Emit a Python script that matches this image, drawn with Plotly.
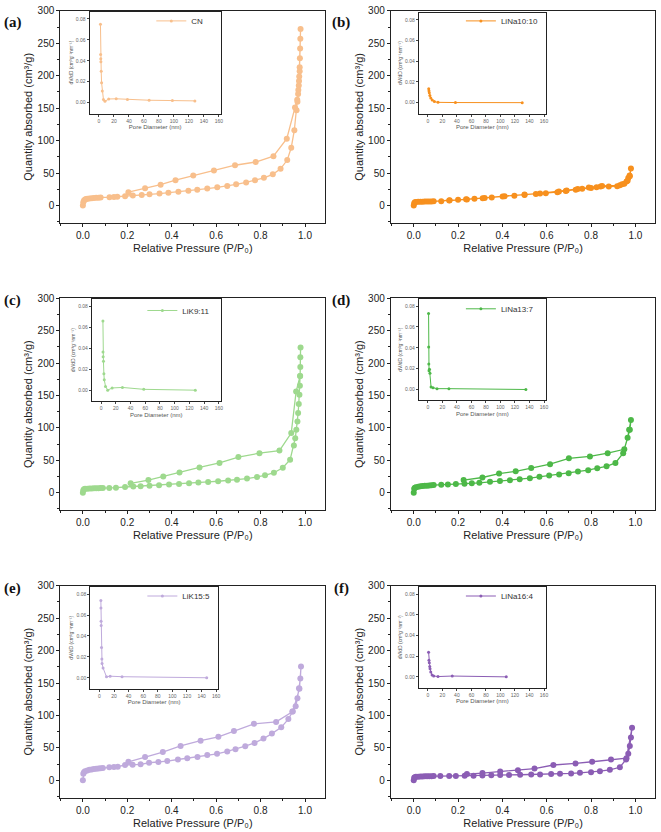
import plotly.graph_objects as go

# ---------------- data ----------------
names = ["CN", "LiNa10:10", "LiK9:11", "LiNa13:7", "LiK15:5", "LiNa16:4"]
panel_labels = ["(a)", "(b)", "(c)", "(d)", "(e)", "(f)"]
colors = ["#F8BF8C", "#F7901E", "#9ED98E", "#4DB848", "#BFAADC", "#8B5DB4"]

# (a) CN isotherm
cn_p_ads = [0.000, 0.002, 0.005, 0.010, 0.015, 0.020, 0.030, 0.040, 0.050, 0.060, 0.070, 0.080,
            0.120, 0.140, 0.155, 0.190, 0.225, 0.265, 0.300, 0.345, 0.385, 0.430, 0.475, 0.515,
            0.560, 0.605, 0.650, 0.690, 0.735, 0.775, 0.815, 0.855, 0.890, 0.920, 0.938, 0.952,
            0.962, 0.966, 0.969, 0.972, 0.974, 0.976, 0.977, 0.978, 0.979, 0.980]
cn_v_ads = [0, 5, 7.5, 9, 9.8, 10.3, 10.8, 11.2, 11.5, 11.8, 12.0, 12.3,
            12.6, 13.0, 13.5, 14.3, 15.3, 16.2, 17.2, 18.3, 19.6, 21.0, 22.6, 24.2,
            26.0, 28.0, 30.0, 32.5, 35.5, 39.0, 42.5, 48.0, 56.5, 70.0, 89.0, 116.0,
            147.0, 160.0, 172.0, 185.0, 199.0, 213.0, 227.0, 242.0, 257.0, 272.0]
cn_p_des = [0.976, 0.973, 0.970, 0.965, 0.955, 0.918, 0.858, 0.778, 0.685, 0.590, 0.497, 0.417, 0.350, 0.280, 0.205]
cn_v_des = [207, 192, 178, 163, 151, 103, 76, 67, 62, 54, 46, 39, 32, 26.5, 20.5]
cn_d = [2.0, 2.2, 2.4, 2.6, 3.0, 3.5, 4.5, 6.0, 8.0, 13.0, 23.0, 38.0, 67.0, 98.0, 128.0]
cn_dv = [0.075, 0.046, 0.042, 0.039, 0.030, 0.019, 0.011, 0.003, 0.0012, 0.0034, 0.0036, 0.0030, 0.0022, 0.0019, 0.0016]

# (b) LiNa10:10
b_p_ads = [0.000, 0.002, 0.005, 0.010, 0.020, 0.030, 0.040, 0.050, 0.060, 0.070, 0.080, 0.090,
           0.124, 0.162, 0.200, 0.236, 0.274, 0.311, 0.352, 0.401, 0.454, 0.500, 0.551, 0.596,
           0.648, 0.686, 0.731, 0.760, 0.800, 0.825, 0.843, 0.880, 0.918, 0.940, 0.960, 0.968,
           0.974, 0.980]
b_v_ads = [0, 3.5, 4.8, 5.2, 5.5, 5.7, 5.8, 5.9, 6.0, 6.1, 6.2, 6.3,
           6.6, 8.0, 8.7, 9.6, 10.2, 11.2, 12.3, 13.6, 15.0, 16.2, 17.8, 18.9,
           20.4, 22.3, 24.3, 25.8, 27.0, 28.0, 29.0, 29.2, 29.6, 32.7, 36.8, 42.4,
           46.0, 57.0]
b_p_des = [0.975, 0.965, 0.950, 0.930, 0.850, 0.790, 0.740, 0.690, 0.655, 0.570, 0.500, 0.410, 0.320, 0.240, 0.160]
b_v_des = [45.0, 38.0, 33.5, 31.0, 30.0, 27.5, 25.5, 23.0, 21.5, 18.5, 16.8, 14.0, 11.5, 9.3, 7.5]
b_d = [1.2, 1.5, 2.0, 2.8, 4.0, 6.0, 9.0, 14.0, 38.0, 130.0]
b_dv = [0.0135, 0.0115, 0.0095, 0.0068, 0.0045, 0.0025, 0.0010, 0.0003, 0.0001, 0.0]

# (c) LiK9:11
c_p_ads = [0.000, 0.002, 0.005, 0.010, 0.020, 0.030, 0.040, 0.050, 0.060, 0.070, 0.080, 0.090,
           0.119, 0.149, 0.190, 0.227, 0.260, 0.300, 0.343, 0.388, 0.433, 0.478, 0.520, 0.564,
           0.609, 0.654, 0.694, 0.739, 0.784, 0.820, 0.860, 0.900, 0.933, 0.950, 0.956, 0.961,
           0.966, 0.969, 0.972, 0.975, 0.977, 0.978, 0.979, 0.980]
c_v_ads = [0, 4.0, 5.5, 6.0, 6.3, 6.5, 6.7, 6.8, 6.9, 7.0, 7.1, 7.2,
           7.3, 7.8, 8.8, 9.5, 10.0, 10.6, 11.6, 12.6, 13.6, 14.8, 15.6, 16.6,
           17.7, 18.8, 20.2, 21.8, 24.3, 26.8, 30.8, 38.5, 51.0, 73.0, 84.0, 97.0,
           110.0, 123.0, 137.0, 151.0, 165.0, 180.0, 194.0, 224.0]
c_p_des = [0.979, 0.978, 0.960, 0.938, 0.885, 0.795, 0.700, 0.615, 0.525, 0.435, 0.362, 0.295, 0.215]
c_v_des = [209, 180, 156, 92, 65, 61, 55, 46, 39, 31, 25, 19.5, 14.5]
c_d = [2.5, 2.6, 2.8, 3.2, 3.8, 4.3, 6.0, 9.0, 15.0, 29.0, 58.0, 128.0]
c_dv = [0.066, 0.0366, 0.032, 0.0276, 0.0159, 0.0102, 0.0038, 0.0002, 0.0023, 0.0028, 0.0010, 0.0002]

# (d) LiNa13:7
d_p_ads = [0.000, 0.002, 0.005, 0.010, 0.020, 0.030, 0.040, 0.050, 0.060, 0.070, 0.080, 0.090,
           0.124, 0.154, 0.190, 0.229, 0.262, 0.296, 0.344, 0.389, 0.434, 0.478, 0.524, 0.567,
           0.611, 0.656, 0.699, 0.741, 0.787, 0.828, 0.870, 0.910, 0.945, 0.965, 0.972, 0.980]
d_v_ads = [0, 6.0, 7.8, 8.6, 9.3, 9.8, 10.2, 10.6, 10.9, 11.2, 11.5, 11.8,
           12.2, 12.8, 13.3, 13.8, 14.8, 15.3, 16.8, 17.9, 19.4, 20.9, 22.4, 24.5,
           26.5, 28.0, 30.1, 32.7, 34.7, 37.8, 40.8, 45.9, 61.0, 84.7, 97.0, 112.0]
d_p_des = [0.975, 0.950, 0.875, 0.795, 0.700, 0.615, 0.530, 0.460, 0.385, 0.310, 0.225]
d_v_des = [97.0, 67.0, 61.0, 56.0, 53.0, 44.0, 38.0, 33.0, 29.6, 23.5, 19.5]
d_d = [1.0, 1.1, 1.3, 1.6, 2.2, 2.9, 4.4, 7.1, 12.6, 29.0, 135.0]
d_dv = [0.073, 0.0408, 0.0245, 0.0179, 0.0195, 0.0157, 0.0025, 0.0017, 0.0008, 0.0008, 0.0]

# (e) LiK15:5
e_p_ads = [0.000, 0.002, 0.005, 0.010, 0.020, 0.030, 0.040, 0.050, 0.060, 0.070, 0.080, 0.090,
           0.119, 0.140, 0.157, 0.190, 0.224, 0.260, 0.298, 0.340, 0.380, 0.428, 0.470, 0.516,
           0.560, 0.604, 0.650, 0.687, 0.731, 0.773, 0.813, 0.851, 0.893, 0.925, 0.943, 0.958,
           0.966, 0.973, 0.979, 0.982]
e_v_ads = [0, 10.0, 12.5, 14.0, 15.2, 16.0, 16.6, 17.2, 17.7, 18.2, 18.6, 19.0,
           20.0, 20.4, 21.0, 23.5, 24.0, 24.5, 27.0, 28.0, 29.6, 32.0, 34.0, 35.7,
           38.8, 40.8, 44.4, 48.0, 52.6, 57.6, 64.3, 72.0, 81.6, 94.4, 106.0, 114.0,
           126.5, 141.8, 157.0, 175.5]
e_p_des = [0.975, 0.945, 0.870, 0.770, 0.680, 0.610, 0.530, 0.440, 0.360, 0.280, 0.205]
e_v_des = [141.0, 106.0, 90.0, 87.0, 76.0, 67.0, 61.0, 53.0, 43.5, 36.0, 28.5]
e_d = [2.0, 2.1, 2.3, 2.4, 2.9, 3.4, 3.6, 5.0, 9.7, 14.7, 31.0, 147.0]
e_dv = [0.0738, 0.0668, 0.054, 0.050, 0.029, 0.018, 0.0136, 0.0094, 0.0009, 0.0015, 0.0010, 0.0]

# (f) LiNa16:4
f_p_ads = [0.000, 0.002, 0.005, 0.010, 0.020, 0.030, 0.040, 0.050, 0.060, 0.070, 0.080, 0.090,
           0.120, 0.160, 0.190, 0.230, 0.270, 0.310, 0.350, 0.390, 0.430, 0.480, 0.530, 0.570,
           0.620, 0.660, 0.710, 0.750, 0.800, 0.840, 0.885, 0.930, 0.958, 0.968, 0.975, 0.980,
           0.985]
f_v_ads = [0, 4.0, 4.8, 5.2, 5.5, 5.7, 5.9, 6.0, 6.1, 6.2, 6.3, 6.4,
           6.5, 6.6, 6.6, 7.0, 7.0, 7.5, 7.7, 8.0, 8.2, 8.5, 8.7, 9.0,
           9.5, 10.0, 10.5, 11.5, 12.5, 14.0, 16.0, 20.0, 32.0, 41.0, 53.0, 66.0,
           81.0]
f_p_des = [0.960, 0.890, 0.805, 0.730, 0.630, 0.545, 0.470, 0.390, 0.310, 0.240]
f_v_des = [34.0, 32.0, 28.5, 26.0, 23.5, 18.0, 15.5, 13.5, 11.0, 9.5]
f_d = [1.0, 1.5, 2.0, 2.6, 3.0, 4.0, 5.8, 8.0, 14.0, 33.6, 108.0]
f_dv = [0.0237, 0.016, 0.0136, 0.010, 0.0079, 0.0047, 0.0019, 0.0009, 0.0003, 0.0008, 0.0]

p_ads_all = [cn_p_ads, b_p_ads, c_p_ads, d_p_ads, e_p_ads, f_p_ads]
v_ads_all = [cn_v_ads, b_v_ads, c_v_ads, d_v_ads, e_v_ads, f_v_ads]
p_des_all = [cn_p_des, b_p_des, c_p_des, d_p_des, e_p_des, f_p_des]
v_des_all = [cn_v_des, b_v_des, c_v_des, d_v_des, e_v_des, f_v_des]
d_all = [cn_d, b_d, c_d, d_d, e_d, f_d]
dv_all = [cn_dv, b_dv, c_dv, d_dv, e_dv, f_dv]

main_xticks = [0.0, 0.2, 0.4, 0.6, 0.8, 1.0]
main_yticks = [0, 50, 100, 150, 200, 250, 300]
inset_xticks = [0, 20, 40, 60, 80, 100, 120, 140, 160]
inset_yticks = [0.00, 0.02, 0.04, 0.06, 0.08]

x_title = "Relative Pressure (P/P\u2080)"
y_title = "Quantity absorbed (cm\u00b3/g)"
ix_title = "Pore Diameter (nm)"
iy_title = "dV/dD (cm\u00b3g\u207b\u00b9nm\u207b\u00b9)"

# ---------------- layout geometry (pixels) ----------------
W, H = 661, 832
col_px = [(60.7, 326.7), (392.7, 658.3)]
row_px = [(5.0, 218.3), (294.3, 507.7), (584.0, 797.3)]
inset_px = [(90.0, 221.7, 5.7, 108.3), (420.7, 548.3, 6.7, 108.3),
            (92.3, 221.7, 295.0, 398.3), (420.7, 548.3, 295.0, 397.3),
            (90.7, 219.0, 585.0, 687.7), (420.7, 548.3, 585.0, 686.7)]
legend_px = [(152, 15), (463, 15), (143, 306.7), (463, 305), (143, 594.3), (463, 594.3)]
label_px = [(13, 17), (343, 17), (13, 297), (343, 297), (13, 587), (343, 587)]

FONT = "Arial, Liberation Sans, sans-serif"

def fx(px):
    return px / W

def fy(py):
    return 1 - py / H

fig = go.Figure()
layout = dict(width=W, height=H, margin=dict(l=0, r=0, t=0, b=0),
              paper_bgcolor="white", plot_bgcolor="white",
              font=dict(family=FONT, color="#222"), annotations=[])

for i in range(6):
    col = i % 2
    row = i // 2
    k = i + 1
    ki = i + 7
    xs = p_ads_all[i] + p_des_all[i]
    ys = v_ads_all[i] + v_des_all[i]
    fig.add_trace(go.Scatter(x=xs, y=ys, mode="lines+markers", xaxis=f"x{k}", yaxis=f"y{k}",
                             line=dict(color=colors[i], width=1.3),
                             marker=dict(color=colors[i], size=6), showlegend=False,
                             hoverinfo="skip"))
    fig.add_trace(go.Scatter(x=d_all[i], y=dv_all[i], mode="lines+markers", xaxis=f"x{ki}", yaxis=f"y{ki}",
                             line=dict(color=colors[i], width=1),
                             marker=dict(color=colors[i], size=3), name=names[i],
                             legend="legend" if k == 1 else f"legend{k}", showlegend=True))
    xr = [-0.101, 1.091] if col == 0 else [-0.103, 1.09]
    x0, x1 = col_px[col]
    t, b = row_px[row]
    layout[f"xaxis{k}"] = dict(domain=[fx(x0), fx(x1)], anchor=f"y{k}", range=xr,
                               tickvals=main_xticks, tickformat=".1f",
                               showline=True, mirror=True, linecolor="#222", linewidth=1.3,
                               ticks="outside", ticklen=3, tickwidth=1, tickcolor="#222",
                               minor=dict(dtick=0.1, tick0=0, ticks="outside", ticklen=2, tickcolor="#222"),
                               showgrid=False, zeroline=False,
                               tickfont=dict(size=10, family=FONT, color="#222"),
                               title=dict(text=x_title,
                                          font=dict(size=11, family=FONT, color="#222"), standoff=4))
    layout[f"yaxis{k}"] = dict(domain=[fy(b), fy(t)], anchor=f"x{k}", range=[-26.7, 300],
                               tickvals=main_yticks,
                               showline=True, mirror=True, linecolor="#222", linewidth=1.3,
                               ticks="outside", ticklen=3, tickwidth=1, tickcolor="#222",
                               minor=dict(dtick=25, tick0=0, ticks="outside", ticklen=2, tickcolor="#222"),
                               showgrid=False, zeroline=False,
                               tickfont=dict(size=10, family=FONT, color="#222"),
                               title=dict(text=y_title,
                                          font=dict(size=11, family=FONT, color="#222"), standoff=2))
    il, ir, it, ib = inset_px[i]
    layout[f"xaxis{ki}"] = dict(domain=[fx(il), fx(ir)], anchor=f"y{ki}", range=[-12.5, 162.5],
                                tickvals=inset_xticks,
                                showline=True, mirror=True, linecolor="#222", linewidth=1,
                                ticks="outside", ticklen=2, tickwidth=0.8, tickcolor="#444",
                                showgrid=False, zeroline=False,
                                tickfont=dict(size=5, family=FONT, color="#666"),
                                title=dict(text=ix_title,
                                           font=dict(size=6, family=FONT, color="#555"), standoff=2))
    layout[f"yaxis{ki}"] = dict(domain=[fy(ib), fy(it)], anchor=f"x{ki}", range=[-0.0105, 0.087],
                                tickvals=inset_yticks, tickformat=".2f",
                                showline=True, mirror=True, linecolor="#222", linewidth=1,
                                ticks="outside", ticklen=2, tickwidth=0.8, tickcolor="#444",
                                showgrid=False, zeroline=False,
                                tickfont=dict(size=5, family=FONT, color="#666"),
                                title=dict(text=iy_title,
                                           font=dict(size=5, family=FONT, color="#555"), standoff=2))
    lx, ly = legend_px[i]
    layout["legend" if k == 1 else f"legend{k}"] = dict(x=fx(lx), y=fy(ly), xanchor="left", yanchor="middle",
                                                        bgcolor="rgba(0,0,0,0)", borderwidth=0,
                                                        itemwidth=30,
                                                        font=dict(size=8, family=FONT, color="#333"))
    ax, ay = label_px[i]
    layout["annotations"].append(dict(text=f"<b>{panel_labels[i]}</b>", x=fx(ax), y=fy(ay),
                                      xref="paper", yref="paper", showarrow=False,
                                      xanchor="center", yanchor="middle",
                                      font=dict(size=15, family="Liberation Serif, Times New Roman, serif", color="#111")))

fig.update_layout(**layout)
fig.write_html("out.html")
